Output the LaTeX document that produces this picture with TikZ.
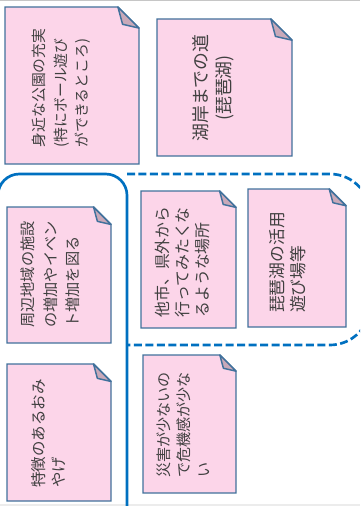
\documentclass[tikz,border=0pt]{standalone}
\usepackage{fontspec}
\usepackage{xcolor}
\usepackage{tikz}
\usetikzlibrary{positioning,calc}
\newfontfamily\jpfont{Noto Sans CJK JP}

\definecolor{fusenpink}{HTML}{FCD5E9}
\definecolor{fusenline}{HTML}{41719C}
\definecolor{fusenflapcol}{HTML}{C9A9B9}
\definecolor{wakublue}{HTML}{0070C0}
\definecolor{mojigray}{HTML}{404040}

\tikzset{
  fusen/.style={draw=fusenline, fill=fusenpink, line width=1.1pt},
  fusenflap/.style={draw=fusenline, fill=fusenflapcol, line width=1.1pt, line join=round},
  fusentext/.style={rotate=90, align=left, text=mojigray, inner sep=0pt},
  waku/.style={draw=wakublue, line width=2pt, rounded corners=16pt},
  wakudash/.style={draw=wakublue, line width=2pt, dash pattern=on 6pt off 2.6pt, rounded corners=30pt},
}

% sticky note: name, x1, y1, x2, y2, text centre, font size, line skip, text
\newcommand{\fusen}[9]{%
  \pgfmathsetmacro{\foldsz}{0.12*(#4-#2)+5}
  \draw[fusen] (#2,#3) -- ({#4-\foldsz},#3) -- (#4,{#3+\foldsz}) -- (#4,#5) -- (#2,#5) -- cycle;
  \draw[fusenflap] ({#4-\foldsz},#3) -- (#4,{#3+\foldsz}) -- ({#4-0.78*\foldsz},{#3+0.82*\foldsz}) -- cycle;
  \node[fusentext, font={\jpfont\fontsize{#7}{#8}\selectfont}] (#1) at #6 {#9};
}

\begin{document}
\begin{tikzpicture}[x=0.75pt, y=-0.75pt]
    \useasboundingbox (0,0) rectangle (360,506);
    \clip (0,0) rectangle (360,506);

    % Page edges
    \draw[gray!45, line width=0.8pt] (0,0.6) -- (360,0.6);
    \draw[gray!15, line width=0.8pt] (0,505) -- (360,505);

    % Groups
    \draw[wakudash] (127,174) -- (370,174) -- (370,345) -- (127,345);
    \draw[waku] (-2,560) -- (-2,174) -- (127,174) -- (127,560);

    % Notes
    \fusen{kouen}{5}{7}{139}{164}{(61.5,88)}{11.1}{16.1}{身近な公園の充実\\(特にボール遊び\\ができるところ)}
    \fusen{kogan}{157}{19}{292}{156}{(213.5,88)}{13.4}{17.3}{\hfill 湖岸までの道\hfill\null\\\hfill(琵琶湖)\hfill\null}
    \fusen{shuhen}{7}{207}{111}{343}{(50.5,274.5)}{11.4}{16.9}{周辺地域の施設\\の増加やイベン\\ト増加を図る}
    \fusen{omiyage}{7}{364}{111}{501}{(49,433.5)}{11.6}{15}{特徴のあるおみ\\やげ}
    \fusen{takengai}{141}{191}{236}{328}{(182,262)}{11.9}{15}{他市、県外から\\行ってみたくな\\るような場所}
    \fusen{biwako}{248}{189}{346}{327}{(287.5,262.5)}{12.6}{15.75}{琵琶湖の活用\\遊び場等}
    \fusen{saigai}{143}{355}{236}{493}{(183,425)}{11.3}{15}{災害が少ないの\\で危機感が少な\\い}
\end{tikzpicture}
\end{document}
